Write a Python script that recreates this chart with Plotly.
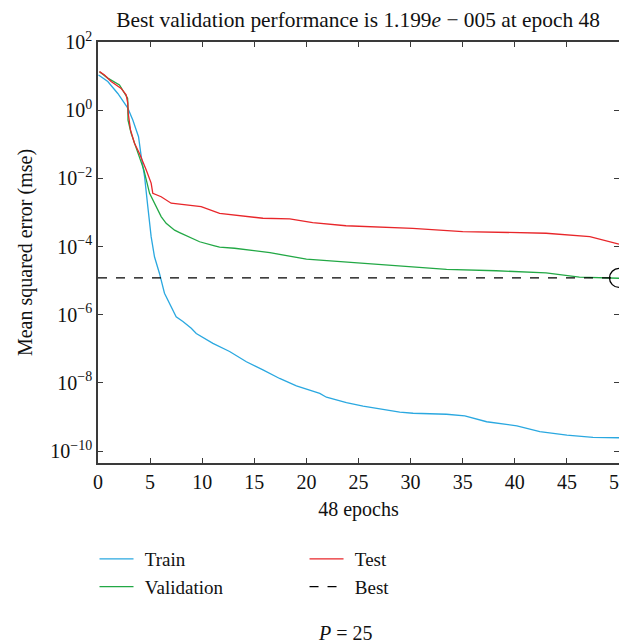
import plotly.graph_objects as go

# ---- data ----
train_epoch = [0.05, 0.94, 1.9, 2.86, 3.34, 3.67, 3.89, 4.15, 4.47, 4.78, 5.1, 5.42, 5.9, 6.38, 7.0, 7.5,
               8.15, 8.95, 9.43, 10.55, 11.03, 12.63, 14.24, 15.83, 17.43, 19.04, 21.28, 21.92, 23.84,
               25.44, 27.04, 28.96, 30.24, 31.84, 33.45, 35.2, 37.3, 40.2, 42.4, 45, 47.5, 50]
train_log = [1.03, 0.84, 0.49, 0.06, -0.29, -0.58, -0.78, -1.36, -1.95, -2.83, -3.71, -4.30, -4.79, -5.37,
             -5.76, -6.06, -6.20, -6.40, -6.55, -6.74, -6.84, -7.08, -7.38, -7.62, -7.87, -8.09, -8.31,
             -8.42, -8.58, -8.68, -8.77, -8.86, -8.89, -8.91, -8.92, -8.97, -9.14, -9.26, -9.43, -9.53,
             -9.60, -9.61]

val_epoch = [0.14, 0.94, 2.06, 2.84, 2.86, 2.87, 2.88, 3.18, 3.82, 4.4, 4.95, 5.42, 5.58, 6.06, 6.54,
             7.35, 7.83, 9.27, 9.75, 11.19, 11.67, 13.1, 13.6, 16.5, 20, 23.8, 27, 30.2, 33.45, 38.2,
             43, 46.2, 50]
val_log = [1.13, 0.94, 0.74, 0.35, 0.25, 0.10, -0.29, -0.68, -1.27, -1.75, -2.44, -2.73, -2.83, -3.12,
           -3.32, -3.52, -3.59, -3.81, -3.86, -3.98, -4.02, -4.05, -4.07, -4.18, -4.37, -4.46, -4.52,
           -4.59, -4.67, -4.71, -4.77, -4.90, -4.93]

test_epoch = [0.14, 0.62, 1.26, 2.22, 2.7, 2.86, 2.9, 3.12, 3.5, 3.98, 4.62, 5.1, 5.26, 6.06, 7.02,
              8.62, 9.43, 9.9, 11.67, 15.83, 18.4, 20.6, 23.8, 27, 30.2, 35, 39.2, 43, 47.2, 50]
test_log = [1.13, 1.03, 0.84, 0.64, 0.45, 0.20, -0.09, -0.58, -0.97, -1.27, -1.75, -2.14, -2.44, -2.54,
            -2.73, -2.78, -2.80, -2.83, -3.03, -3.17, -3.19, -3.30, -3.39, -3.42, -3.47, -3.56, -3.59,
            -3.61, -3.71, -3.93]

best_value = 1.199e-5
best_epoch = 50
x_range = [0, 50]

ytick_exp = [2, 0, -2, -4, -6, -8, -10]
xtick_vals = [0, 5, 10, 15, 20, 25, 30, 35, 40, 45, 50]

# ---- styling ----
FONT = "Liberation Serif"
FS = 20
LFS = 19
GAP = "\u2004"  # small extra gap between legend line and label
C_TRAIN = "#2aa8e0"
C_VAL = "#22a845"
C_TEST = "#e8262a"
AX = "#3a3a3a"

fig = go.Figure()

fig.add_trace(go.Scatter(x=train_epoch, y=[10 ** v for v in train_log], mode="lines",
                         name=GAP + "Train", line=dict(color=C_TRAIN, width=1.3), legend="legend"))
fig.add_trace(go.Scatter(x=val_epoch, y=[10 ** v for v in val_log], mode="lines",
                         name=GAP + "Validation", line=dict(color=C_VAL, width=1.3), legend="legend"))
fig.add_trace(go.Scatter(x=test_epoch, y=[10 ** v for v in test_log], mode="lines",
                         name=GAP + "Test", line=dict(color=C_TEST, width=1.3), legend="legend2"))
fig.add_trace(go.Scatter(x=x_range, y=[best_value, best_value], mode="lines",
                         name=GAP + "Best", line=dict(color="black", width=1.3, dash="dash"),
                         legend="legend2"))
fig.add_trace(go.Scatter(x=[best_epoch], y=[best_value], mode="markers", showlegend=False,
                         marker=dict(symbol="circle-open", size=19, color="black",
                                     line=dict(color="black", width=1.3)),
                         cliponaxis=False))

# the page adds an 8px body margin, so the figure is 8px smaller and shifted
fig.update_layout(
    width=619, height=636,
    margin=dict(l=90, r=8, t=34, b=181, autoexpand=False),
    paper_bgcolor="white", plot_bgcolor="white",
    font=dict(family=FONT, size=FS, color="#111111"),
    title=dict(text="Best validation performance is 1.199<i>e</i> − 005 at epoch 48",
               x=350 / 619, xanchor="center", y=1 - 11 / 636, yanchor="middle",
               font=dict(family=FONT, size=21.4)),
    legend=dict(x=-0.0067, y=-0.183, xanchor="left", yanchor="top", orientation="v",
                font=dict(family=FONT, size=LFS), bgcolor="rgba(0,0,0,0)", tracegroupgap=0,
                itemwidth=34),
    legend2=dict(x=0.3964, y=-0.183, xanchor="left", yanchor="top", orientation="v",
                 font=dict(family=FONT, size=LFS), bgcolor="rgba(0,0,0,0)", tracegroupgap=0,
                 itemwidth=34),
    xaxis=dict(range=x_range, tickvals=xtick_vals, ticks="inside", ticklen=5, tickcolor=AX,
               showline=True, linecolor=AX, linewidth=1.5, mirror="ticks", showgrid=False,
               zeroline=False, tickfont=dict(size=FS), automargin=False, ticklabeloverflow="allow",
               title=dict(text="48 epochs", standoff=10, font=dict(size=FS))),
    yaxis=dict(type="log", range=[-10.35, 2.0],
               tickvals=[10 ** e for e in ytick_exp],
               ticktext=["10<sup>%s</sup>" % (str(e).replace("-", "−")) for e in ytick_exp],
               ticks="inside", ticklen=5, tickcolor=AX, showline=True, linecolor=AX, linewidth=1.5,
               mirror="ticks", showgrid=False, zeroline=False, tickfont=dict(size=FS), automargin=False,
               ticklabeloverflow="allow",
               title=dict(text="Mean squared error (mse)", standoff=12, font=dict(size=FS))),
    annotations=[dict(text="<i>P</i> = 25", x=(345 - 98) / 521, xref="paper", y=-(633 - 463) / 421,
                      yref="paper", xanchor="center", yanchor="middle", showarrow=False,
                      font=dict(family=FONT, size=FS))],
)

fig.write_html("out.html")
